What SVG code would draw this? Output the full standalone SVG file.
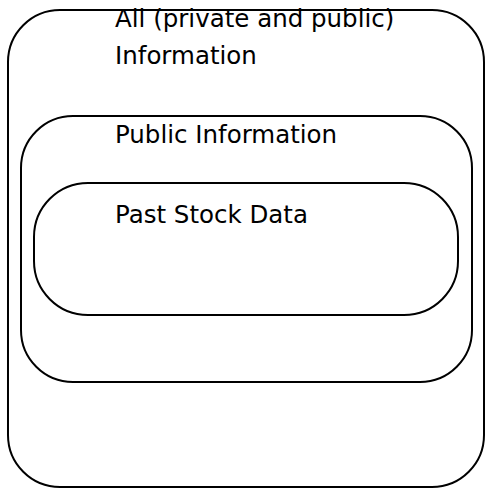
<svg xmlns="http://www.w3.org/2000/svg" width="485" height="489" viewBox="0 0 485 489">
<style>
.box{fill:none;stroke:#000;stroke-width:2}
.lbl{font-family:"DejaVu Sans",sans-serif;font-size:24.5px;fill:#000}
</style>
<rect width="485" height="489" fill="#fff"/>
<g id="all">
<rect class="box" x="8" y="10" width="476" height="477" rx="52" ry="52"/>
<text class="lbl" x="115" y="27">All (private and public)</text>
<text class="lbl" x="115" y="64">Information</text>
</g>
<g id="public">
<rect class="box" x="21" y="116" width="451" height="266" rx="52" ry="52"/>
<text class="lbl" x="115" y="143">Public Information</text>
</g>
<g id="past">
<rect class="box" x="34" y="183" width="424" height="132" rx="54" ry="54"/>
<text class="lbl" x="115" y="223">Past Stock Data</text>
</g>
<g id="connectors"></g>
</svg>
